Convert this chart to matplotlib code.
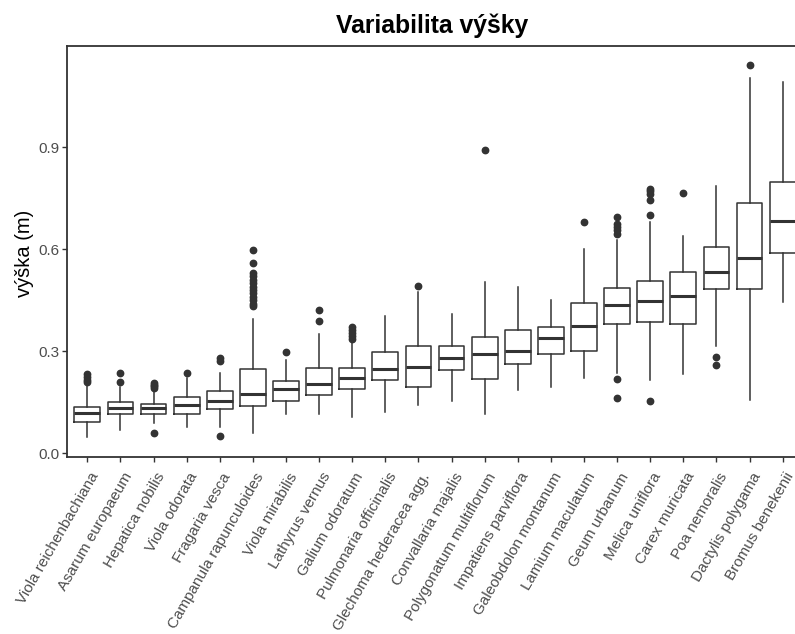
import matplotlib
matplotlib.use("Agg")
import matplotlib.pyplot as plt
import matplotlib.transforms as mtransforms

plt.rcParams['font.family'] = ['Liberation Sans', 'DejaVu Sans']

# druhy seřazené podle mediánu výšky
species = [
    "Viola reichenbachiana", "Asarum europaeum", "Hepatica nobilis", "Viola odorata",
    "Fragaria vesca", "Campanula rapunculoides", "Viola mirabilis", "Lathyrus vernus",
    "Galium odoratum", "Pulmonaria officinalis", "Glechoma hederacea agg.",
    "Convallaria majalis", "Polygonatum multiflorum", "Impatiens parviflora",
    "Galeobdolon montanum", "Lamium maculatum", "Geum urbanum", "Melica uniflora",
    "Carex muricata", "Poa nemoralis", "Dactylis polygama", "Bromus benekenii",
]

whislo = [0.047, 0.067, 0.088, 0.078, 0.078, 0.061, 0.115, 0.115, 0.106, 0.122, 0.142,
          0.155, 0.115, 0.186, 0.194, 0.221, 0.235, 0.214, 0.233, 0.314, 0.157, 0.444]
q1 = [0.091, 0.116, 0.116, 0.116, 0.130, 0.139, 0.155, 0.171, 0.190, 0.215, 0.194,
      0.246, 0.218, 0.263, 0.291, 0.302, 0.381, 0.385, 0.381, 0.482, 0.482, 0.589]
med = [0.118, 0.133, 0.132, 0.142, 0.154, 0.174, 0.189, 0.205, 0.221, 0.248, 0.253,
       0.281, 0.292, 0.300, 0.340, 0.373, 0.436, 0.448, 0.463, 0.532, 0.575, 0.682]
q3 = [0.135, 0.152, 0.144, 0.164, 0.183, 0.247, 0.211, 0.250, 0.250, 0.298, 0.315,
      0.315, 0.343, 0.362, 0.371, 0.441, 0.486, 0.505, 0.533, 0.605, 0.736, 0.796]
whishi = [0.201, 0.196, 0.191, 0.221, 0.235, 0.395, 0.275, 0.351, 0.329, 0.404, 0.474,
          0.410, 0.502, 0.490, 0.451, 0.601, 0.626, 0.681, 0.638, 0.785, 1.103, 1.091]
outliers = [
    [0.209, 0.215, 0.225, 0.232],
    [0.208, 0.235],
    [0.059, 0.192, 0.197, 0.201, 0.206],
    [0.235],
    [0.051, 0.270, 0.280],
    [0.432, 0.440, 0.450, 0.460, 0.470, 0.480, 0.490, 0.500, 0.510, 0.520, 0.530, 0.559, 0.597],
    [0.298],
    [0.389, 0.422],
    [0.336, 0.344, 0.353, 0.362, 0.371],
    [],
    [0.493],
    [],
    [0.892],
    [],
    [],
    [0.681],
    [0.163, 0.219, 0.645, 0.655, 0.665, 0.675, 0.693],
    [0.155, 0.701, 0.743, 0.762, 0.770, 0.778],
    [0.764],
    [0.258, 0.283],
    [1.140],
    [],
]

stats = []
for i, name in enumerate(species):
    stats.append({
        "label": name, "whislo": whislo[i], "q1": q1[i], "med": med[i],
        "q3": q3[i], "whishi": whishi[i], "fliers": outliers[i],
    })

fig = plt.figure(figsize=(7.95, 6.34), dpi=100)
ax = fig.add_axes([0.0849, 0.2797, 0.9246, 0.6478])

line_col = "#333333"
ax.bxp(
    stats, positions=range(len(species)), widths=0.78, showcaps=False,
    boxprops=dict(color=line_col, linewidth=1.1),
    whiskerprops=dict(color=line_col, linewidth=1.1),
    medianprops=dict(color=line_col, linewidth=2.2),
    flierprops=dict(marker='o', markerfacecolor=line_col, markeredgecolor=line_col,
                    markersize=4.6, linestyle='none'),
)

ax.set_xlim(-0.6, len(species) - 0.4)
ax.set_ylim(-0.01, 1.197)
ax.set_yticks([0.0, 0.3, 0.6, 0.9])
ax.set_yticklabels(["0.0", "0.3", "0.6", "0.9"])
ax.set_xticks(range(len(species)))
ax.set_xticklabels([])

# popisky os x ručně, posunuté jako v ggplotu (angle=60)
lab_trans = ax.get_xaxis_transform() + mtransforms.ScaledTranslation(
    8 / 100, -17 / 100, fig.dpi_scale_trans)
for i, name in enumerate(species):
    ax.text(i, 0, name, transform=lab_trans, rotation=60, ha='right', va='center',
            rotation_mode='anchor', fontsize=11, color="#4D4D4D", clip_on=False)

ax.tick_params(axis='both', colors=line_col, labelcolor="#4D4D4D", labelsize=11,
               length=3.5, width=1.0, pad=2)
for sp in ax.spines.values():
    sp.set_color(line_col)
    sp.set_linewidth(1.3)

fig.text(432 / 795, 1 - 33.5 / 634, "Variabilita výšky", ha='center', va='baseline',
         fontsize=17.8, fontweight='bold')
fig.text(25 / 795, 1 - 253 / 634, "výška (m)", rotation=90, ha='center', va='center',
         fontsize=14.5)

fig.savefig("out.png", dpi=100)
plt.close(fig)
